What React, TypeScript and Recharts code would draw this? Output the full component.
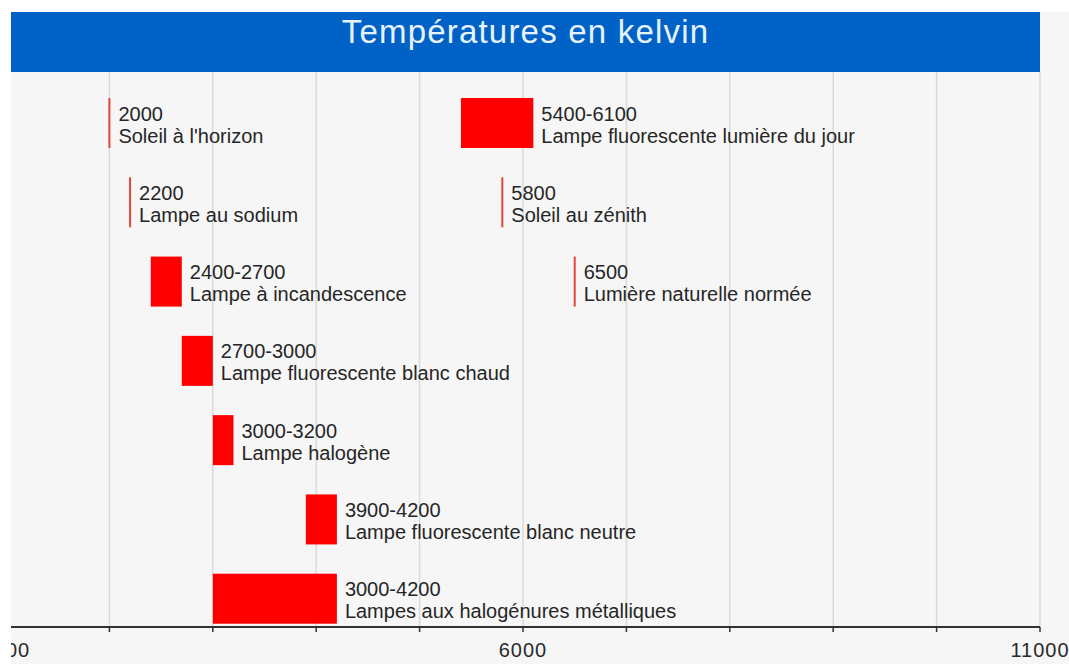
import { BarChart, Bar, XAxis, YAxis, CartesianGrid } from 'recharts';

// one row per line of the chart, left column and right column
const rows = ['r1', 'r2', 'r3', 'r4', 'r5', 'r6', 'r7'];

const leftLow = [2000, 2200, 2400, 2700, 3000, 3900, 3000];
const leftHigh = [2000, 2200, 2700, 3000, 3200, 4200, 4200];
const leftNames = [
  "Soleil à l'horizon",
  'Lampe au sodium',
  'Lampe à incandescence',
  'Lampe fluorescente blanc chaud',
  'Lampe halogène',
  'Lampe fluorescente blanc neutre',
  'Lampes aux halogénures métalliques',
];

const rightLow = [5400, 5800, 6500, null, null, null, null];
const rightHigh = [6100, 5800, 6500, null, null, null, null];
const rightNames = [
  'Lampe fluorescente lumière du jour',
  'Soleil au zénith',
  'Lumière naturelle normée',
  null,
  null,
  null,
  null,
];

const xTicks = [1000, 2000, 3000, 4000, 5000, 6000, 7000, 8000, 9000, 10000, 11000];
const xTickLabels = [1000, 6000, 11000];

const FONT = '"Liberation Sans", Arial, sans-serif';

const rangeText = (lo: number, hi: number) => (lo === hi ? `${lo}` : `${lo}-${hi}`);

const data = rows.map((row, i) => ({
  row,
  left: [leftLow[i], leftHigh[i]],
  leftLabel: rangeText(leftLow[i], leftHigh[i]),
  leftName: leftNames[i],
  right: rightLow[i] == null ? null : [rightLow[i], rightHigh[i]],
  rightLabel: rightLow[i] == null ? '' : rangeText(rightLow[i] as number, rightHigh[i] as number),
  rightName: rightNames[i],
}));

function makeShape(side: 'left' | 'right') {
  return (props: any) => {
    const { x, y, width, height, payload } = props;
    if (!payload || payload[side] == null || !isFinite(x) || !isFinite(width)) return <g />;
    const cy = y + height / 2;
    const isLine = Math.abs(width) < 2;
    const tx = x + (isLine ? 1 : width) + 8;
    return (
      <g>
        {isLine ? (
          <rect x={x - 1} y={y} width={2} height={height} fill="#e0473c" />
        ) : (
          <rect x={x} y={y} width={width} height={height} fill="#ff0000" />
        )}
        <text x={tx} y={cy - 2.5} fontSize={20} fill="#262626" fontFamily={FONT}>
          {payload[side + 'Label']}
        </text>
        <text x={tx} y={cy + 19.5} fontSize={20} fill="#262626" fontFamily={FONT}>
          {payload[side + 'Name']}
        </text>
      </g>
    );
  };
}

function AxisTick({ x, y, payload }: any) {
  if (!xTickLabels.includes(payload.value)) return <g />;
  return (
    <text
      x={x}
      y={y + 23}
      textAnchor="middle"
      fontSize={20}
      fill="#2a2a2a"
      fontFamily={FONT}
      letterSpacing={1}
    >
      {payload.value}
    </text>
  );
}

export default function App() {
  return (
    <div style={{ position: 'absolute', left: 0, top: 0, width: 1069, height: 664, background: '#fff', overflow: 'hidden' }}>
      <div style={{ position: 'absolute', left: 11, top: 12, width: 1058, height: 652, background: '#f6f6f6' }} />
      <div style={{ position: 'absolute', left: 0, top: 0 }}>
        <BarChart
          width={1069}
          height={664}
          data={data}
          layout="vertical"
          margin={{ top: 72, right: 29, bottom: 7, left: 6 }}
        >
          <CartesianGrid horizontal={false} stroke="#dadada" strokeWidth={1.5} />
          <XAxis
            type="number"
            domain={[1000, 11000]}
            ticks={xTicks}
            interval={0}
            height={30}
            axisLine={{ stroke: '#333', strokeWidth: 2 }}
            tickLine={{ stroke: '#333', strokeWidth: 1.5 }}
            tickSize={5}
            tick={<AxisTick />}
          />
          <YAxis yAxisId="L" type="category" dataKey="row" hide padding={{ top: 11, bottom: -11 }} />
          <YAxis yAxisId="R" type="category" dataKey="row" hide padding={{ top: 11, bottom: -11 }} />
          <Bar dataKey="left" yAxisId="L" barSize={50} fill="#ff0000" shape={makeShape('left')} isAnimationActive={false} />
          <Bar dataKey="right" yAxisId="R" barSize={50} fill="#ff0000" shape={makeShape('right')} isAnimationActive={false} />
        </BarChart>
      </div>
      <div style={{ position: 'absolute', left: 0, top: 0, width: 11, height: 664, background: '#fff' }} />
      <div
        style={{
          position: 'absolute',
          left: 11,
          top: 12,
          width: 1029,
          height: 60,
          background: '#0062c6',
          color: '#e6f3ff',
          fontFamily: FONT,
          fontSize: 33,
          letterSpacing: 1.2,
          textAlign: 'center',
          lineHeight: '40px',
        }}
      >
        Températures en kelvin
      </div>
    </div>
  );
}
